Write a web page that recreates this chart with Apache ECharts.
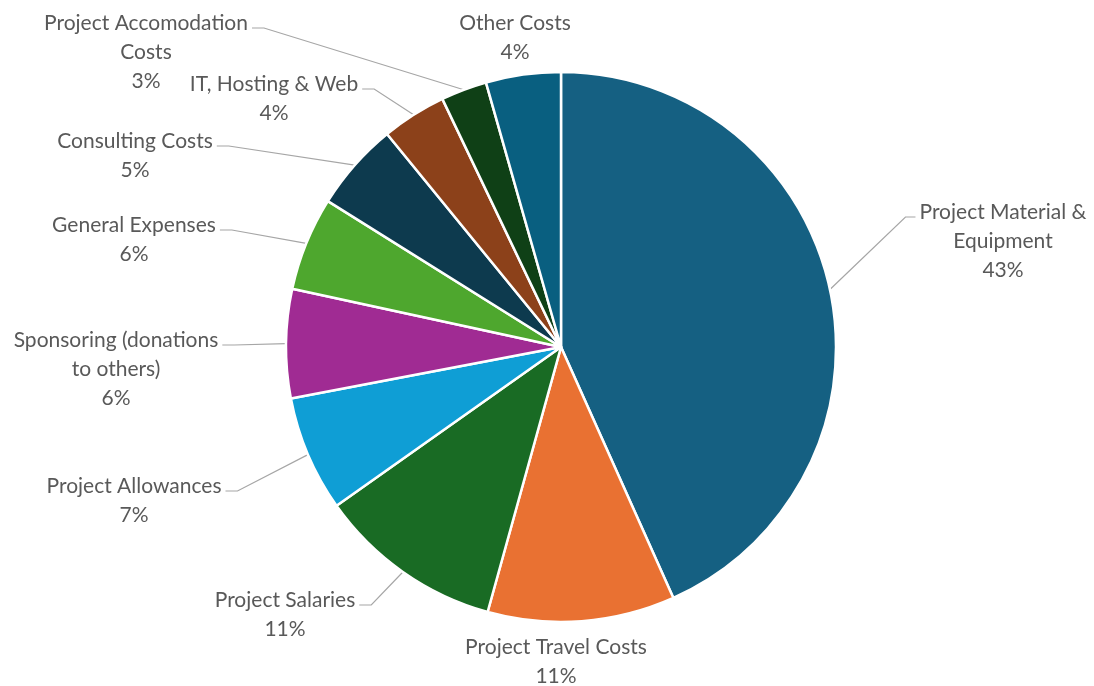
<!DOCTYPE html>
<html>
<head>
<meta charset="utf-8">
<script src="https://cdn.jsdelivr.net/npm/echarts@6/dist/echarts.min.js"></script>
<style>
  html, body { margin: 0; padding: 0; background: #fff; }
  #chart { width: 1094px; height: 686px; }
</style>
</head>
<body>
<div id="chart"></div>
<script>
// categories, clockwise from 12 o'clock
const categories = [
  "Project Material &\nEquipment",
  "Project Travel Costs",
  "Project Salaries",
  "Project Allowances",
  "Sponsoring (donations\nto others)",
  "General Expenses",
  "Consulting Costs",
  "IT, Hosting & Web",
  "Project Accomodation\nCosts",
  "Other Costs"
];
// share of total
const shares = [43.3, 11.0, 10.9, 6.8, 6.4, 5.5, 5.2, 3.8, 2.7, 4.4];

const colors = [
  "#156082", "#E97132", "#196B24", "#0F9ED5", "#A02B93",
  "#4EA72E", "#0D3A4E", "#8C411A", "#0F4016", "#095F80"
];

// where excel put each label (centre x, first line y), and which side the leader comes in
const labelSpots = [
  { x: 1003, y: 212, side: "left" },
  { x: 556, y: 647, side: null },
  { x: 285, y: 600, side: "right" },
  { x: 134, y: 486, side: "right" },
  { x: 116, y: 340, side: "right" },
  { x: 134, y: 225, side: "right" },
  { x: 135, y: 141, side: "right" },
  { x: 274, y: 84, side: "right" },
  { x: 146, y: 23, side: "right" },
  { x: 515, y: 23, side: null }
];

const LH = 29;

const chart = echarts.init(document.getElementById("chart"));

const seriesData = categories.map((name, i) => ({
  name: name,
  value: shares[i],
  labelLine: { show: labelSpots[i].side !== null }
}));

chart.setOption({
  backgroundColor: "#fff",
  animation: false,
  color: colors,
  series: [
    {
      type: "pie",
      center: [561, 347],
      radius: 275,
      startAngle: 90,
      clockwise: true,
      avoidLabelOverlap: false,
      itemStyle: { borderColor: "#fff", borderWidth: 2.5 },
      label: {
        show: true,
        position: "outer",
        alignTo: "none",
        color: "#595959",
        fontFamily: "Lato",
        fontSize: 21,
        lineHeight: LH,
        align: "center",
        formatter: (p) => p.name + "\n" + Math.round(p.percent) + "%"
      },
      labelLine: {
        show: true,
        length: 20,
        length2: 20,
        lineStyle: { color: "#A6A6A6", width: 1.2 }
      },
      labelLayout: function (params) {
        const s = labelSpots[params.dataIndex];
        const out = {
          x: s.x,
          y: s.y - LH / 2,
          align: "center",
          verticalAlign: "top"
        };
        if (s.side && params.labelLinePoints) {
          const half = params.labelRect.width / 2;
          const edge = params.labelLinePoints[0];
          const ly = s.y + 5;
          let endX, bendX;
          if (s.side === "right") {
            endX = s.x + half + 4;
            bendX = endX + 12;
          } else {
            endX = s.x - half - 4;
            bendX = endX - 10;
          }
          out.labelLinePoints = [edge, [bendX, ly], [endX, ly]];
        }
        return out;
      },
      data: seriesData
    }
  ]
});
</script>
</body>
</html>
